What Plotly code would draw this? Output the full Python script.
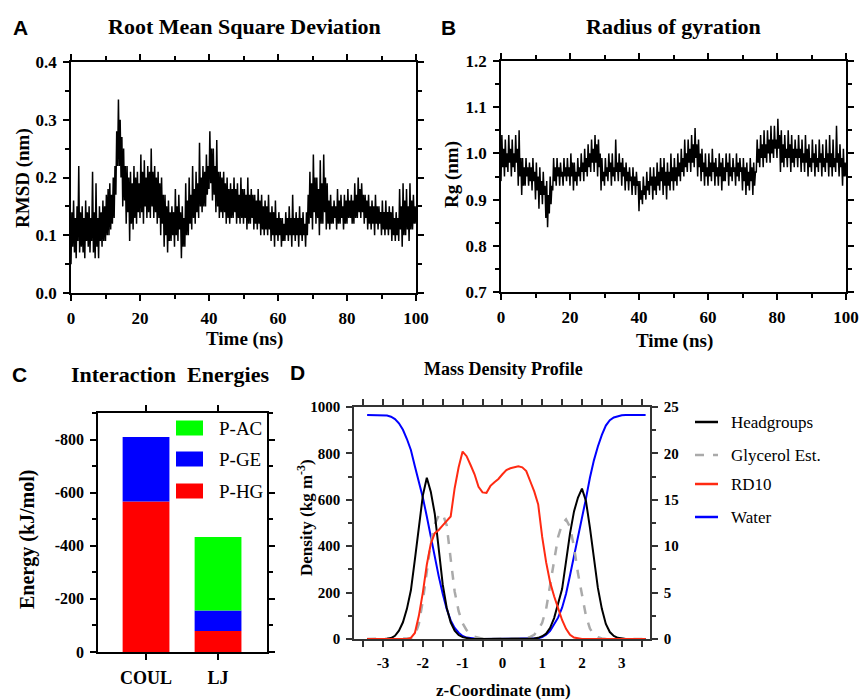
import plotly.graph_objects as go

# ---------------- DATA ----------------
rmsd_nm = [
    0.05, 0.14, 0.08, 0.16, 0.07, 0.13, 0.06, 0.15, 0.09, 0.22, 0.07, 0.14, 0.08, 0.15, 0.07, 0.13,
    0.06, 0.16, 0.09, 0.14, 0.08, 0.15, 0.07, 0.13, 0.09, 0.21, 0.07, 0.14, 0.06, 0.19, 0.08, 0.13,
    0.06, 0.15, 0.09, 0.14, 0.08, 0.16, 0.09, 0.15,
    0.09, 0.17, 0.10, 0.18, 0.10, 0.19, 0.11, 0.17, 0.12, 0.20, 0.13, 0.22, 0.17, 0.28, 0.22, 0.335,
    0.22, 0.30, 0.20, 0.27, 0.15, 0.25, 0.16, 0.22, 0.12, 0.22, 0.14, 0.20, 0.09, 0.21, 0.12, 0.19,
    0.11, 0.22, 0.13, 0.20, 0.12, 0.21, 0.14, 0.19,
    0.13, 0.24, 0.14, 0.21, 0.12, 0.23, 0.15, 0.20, 0.13, 0.22, 0.14, 0.21, 0.13, 0.25, 0.15, 0.21,
    0.13, 0.22, 0.14, 0.20, 0.12, 0.21, 0.13, 0.19, 0.10, 0.20, 0.12, 0.17, 0.08, 0.17, 0.10, 0.15,
    0.07, 0.16, 0.09, 0.14, 0.09, 0.15, 0.10, 0.14,
    0.08, 0.18, 0.10, 0.15, 0.09, 0.17, 0.11, 0.14, 0.06, 0.15, 0.08, 0.13, 0.08, 0.19, 0.10, 0.16,
    0.10, 0.20, 0.12, 0.17, 0.11, 0.22, 0.13, 0.18, 0.12, 0.21, 0.14, 0.19, 0.13, 0.26, 0.15, 0.20,
    0.14, 0.22, 0.15, 0.21, 0.15, 0.24, 0.17, 0.22,
    0.18, 0.28, 0.19, 0.25, 0.16, 0.25, 0.17, 0.22, 0.14, 0.265, 0.15, 0.21, 0.13, 0.21, 0.14, 0.20,
    0.13, 0.21, 0.14, 0.19, 0.12, 0.20, 0.13, 0.18, 0.12, 0.19, 0.13, 0.18, 0.13, 0.20, 0.14, 0.18,
    0.12, 0.19, 0.13, 0.17, 0.12, 0.20, 0.13, 0.18,
    0.12, 0.18, 0.13, 0.17, 0.11, 0.20, 0.12, 0.17, 0.12, 0.18, 0.13, 0.17, 0.11, 0.17, 0.12, 0.16,
    0.11, 0.18, 0.12, 0.16, 0.10, 0.17, 0.11, 0.15, 0.10, 0.16, 0.11, 0.15, 0.10, 0.17, 0.11, 0.14,
    0.09, 0.15, 0.10, 0.14, 0.08, 0.16, 0.10, 0.13,
    0.09, 0.14, 0.10, 0.13, 0.08, 0.13, 0.09, 0.12, 0.09, 0.14, 0.10, 0.13, 0.09, 0.15, 0.10, 0.13,
    0.08, 0.17, 0.10, 0.13, 0.09, 0.14, 0.10, 0.13, 0.08, 0.15, 0.10, 0.13, 0.09, 0.14, 0.10, 0.12,
    0.08, 0.14, 0.10, 0.17, 0.12, 0.21, 0.13, 0.19,
    0.11, 0.24, 0.14, 0.20, 0.12, 0.20, 0.13, 0.18, 0.10, 0.23, 0.12, 0.19, 0.12, 0.24, 0.14, 0.20,
    0.11, 0.19, 0.12, 0.16, 0.11, 0.17, 0.12, 0.15, 0.12, 0.16, 0.13, 0.15, 0.11, 0.18, 0.12, 0.16,
    0.12, 0.17, 0.13, 0.15, 0.11, 0.17, 0.12, 0.16,
    0.12, 0.18, 0.13, 0.16, 0.13, 0.17, 0.12, 0.16, 0.12, 0.19, 0.13, 0.17, 0.13, 0.20, 0.14, 0.18,
    0.13, 0.19, 0.14, 0.17, 0.12, 0.17, 0.13, 0.16, 0.11, 0.17, 0.12, 0.15, 0.11, 0.16, 0.12, 0.15,
    0.10, 0.17, 0.12, 0.15, 0.11, 0.15, 0.12, 0.14,
    0.10, 0.16, 0.11, 0.14, 0.10, 0.16, 0.11, 0.14, 0.10, 0.15, 0.11, 0.14, 0.09, 0.15, 0.10, 0.13,
    0.09, 0.14, 0.10, 0.13, 0.09, 0.18, 0.11, 0.15, 0.08, 0.19, 0.10, 0.16, 0.10, 0.18, 0.11, 0.15,
    0.09, 0.19, 0.11, 0.16, 0.11, 0.17, 0.12, 0.15,
    0.12,
]

# Panel B: radius of gyration (nm), every 0.25 ns
rg_nm = [
    0.94, 1.04, 0.97, 1.01, 0.95, 1.03, 0.97, 1.00, 0.96, 1.04, 0.98, 1.01, 0.95, 1.03, 0.97, 1.00,
    0.96, 1.04, 0.98, 1.01, 0.93, 1.05, 0.95, 0.99, 0.91, 0.99, 0.93, 0.97, 0.93, 0.99, 0.95, 0.97,
    0.93, 0.98, 0.94, 0.97, 0.92, 0.99, 0.94, 0.96,
    0.90, 0.98, 0.92, 0.95, 0.88, 0.97, 0.91, 0.94, 0.89, 0.96, 0.91, 0.93, 0.86, 0.94, 0.84, 0.91,
    0.87, 0.95, 0.89, 0.93, 0.92, 0.99, 0.94, 0.97, 0.93, 0.99, 0.95, 0.97, 0.93, 0.98, 0.95, 0.96,
    0.93, 0.99, 0.95, 0.97, 0.94, 0.99, 0.95, 0.97,
    0.93, 1.00, 0.95, 0.98, 0.92, 0.98, 0.94, 0.96, 0.93, 0.99, 0.95, 0.97, 0.94, 1.00, 0.96, 0.98,
    0.94, 1.01, 0.96, 0.99, 0.95, 1.02, 0.97, 1.00, 0.96, 1.03, 0.98, 1.01, 0.96, 1.04, 0.98, 1.02,
    0.95, 1.03, 0.97, 1.00, 0.92, 0.99, 0.94, 0.96,
    0.93, 0.99, 0.95, 0.97, 0.94, 1.00, 0.96, 0.98, 0.93, 1.00, 0.95, 0.97, 0.94, 1.03, 0.96, 0.98,
    0.94, 1.00, 0.96, 0.98, 0.93, 0.99, 0.95, 0.97, 0.92, 0.98, 0.94, 0.96, 0.92, 0.97, 0.94, 0.95,
    0.91, 0.97, 0.93, 0.95, 0.91, 0.96, 0.93, 0.94,
    0.875, 0.94, 0.90, 0.92, 0.89, 0.95, 0.91, 0.93, 0.90, 0.96, 0.92, 0.94, 0.91, 0.97, 0.93, 0.95,
    0.90, 0.97, 0.92, 0.95, 0.91, 0.98, 0.93, 0.96, 0.92, 0.99, 0.94, 0.97, 0.91, 0.99, 0.93, 0.96,
    0.90, 0.98, 0.93, 0.96, 0.92, 1.00, 0.94, 0.97,
    0.92, 0.99, 0.94, 0.97, 0.93, 1.00, 0.95, 0.98, 0.94, 1.01, 0.96, 0.99, 0.95, 1.03, 0.97, 1.00,
    0.96, 1.03, 0.98, 1.01, 0.96, 1.04, 0.98, 1.02, 0.97, 1.055, 0.99, 1.02, 0.95, 1.03, 0.97, 1.00,
    0.94, 1.01, 0.96, 0.98, 0.93, 1.00, 0.95, 0.97,
    0.93, 1.00, 0.95, 0.98, 0.94, 1.01, 0.96, 0.98, 0.93, 0.99, 0.95, 0.97, 0.93, 1.00, 0.95, 0.98,
    0.92, 0.99, 0.94, 0.97, 0.94, 1.00, 0.96, 0.98, 0.93, 1.00, 0.95, 0.97, 0.94, 0.99, 0.96, 0.97,
    0.93, 1.00, 0.95, 0.98, 0.94, 0.99, 0.96, 0.97,
    0.92, 0.99, 0.94, 0.97, 0.91, 0.98, 0.93, 0.96, 0.92, 0.99, 0.94, 0.97, 0.91, 0.98, 0.93, 0.96,
    0.96, 1.03, 0.98, 1.01, 0.97, 1.04, 0.99, 1.02, 0.97, 1.05, 0.99, 1.02, 0.98, 1.05, 1.00, 1.03,
    0.98, 1.06, 1.00, 1.03, 0.99, 1.06, 1.01, 1.03,
    0.99, 1.075, 1.01, 1.04, 0.96, 1.05, 0.98, 1.02, 0.97, 1.04, 0.99, 1.01, 0.97, 1.05, 0.99, 1.02,
    0.96, 1.04, 0.98, 1.01, 0.97, 1.03, 0.99, 1.01, 0.97, 1.04, 0.99, 1.01, 0.96, 1.03, 0.98, 1.00,
    0.96, 1.04, 0.98, 1.01, 0.95, 1.02, 0.97, 0.99,
    0.96, 1.03, 0.98, 1.00, 0.95, 1.02, 0.97, 0.99, 0.96, 1.03, 0.98, 1.00, 0.95, 1.02, 0.97, 0.99,
    0.96, 1.03, 0.98, 1.00, 0.95, 1.04, 0.97, 1.00, 0.95, 1.03, 0.97, 0.99, 0.96, 1.06, 0.98, 1.00,
    0.95, 1.02, 0.97, 0.99, 0.93, 1.01, 0.95, 0.98,
    0.95,
]
time_ns = [0.25 * i for i in range(len(rmsd_nm))]
time_rg_ns = [0.25 * i for i in range(len(rg_nm))]

# Panel C: interaction energies (kJ/mol)
energy_categories = ["COUL", "LJ"]
p_hg = [-567, -79]
p_ge = [-243, -77]
p_ac = [0, -277]
energy_ticks = [0, -200, -400, -600, -800]
energy_ticktext = ["0", "-200", "-400", "-600", "-800"]

# Panel D: mass density profile
z_nm = [-3.4, -3.3, -3.2, -3.1, -3.0,
        -2.9, -2.8, -2.7, -2.6, -2.5, -2.4, -2.3, -2.2, -2.1, -2.0,
        -1.9, -1.8, -1.7, -1.6, -1.5, -1.4, -1.3, -1.2, -1.1, -1.0,
        -0.9, -0.8, -0.7, -0.6, -0.5, -0.4, -0.3, -0.2, -0.1, 0.0,
        0.1, 0.2, 0.3, 0.4, 0.5, 0.6, 0.7, 0.8, 0.9, 1.0,
        1.1, 1.2, 1.3, 1.4, 1.5, 1.6, 1.7, 1.8, 1.9, 2.0,
        2.1, 2.2, 2.3, 2.4, 2.5, 2.6, 2.7, 2.8, 2.9, 3.0,
        3.1, 3.2, 3.3, 3.4, 3.5, 3.6]
headgroups = [0, 0, 0, 0, 0,
              1, 4, 14, 36, 72, 130, 210, 342, 485, 618,
              695, 635, 540, 385, 235, 135, 72, 36, 17, 8,
              3, 1, 0, 0, 0, 0, 0, 0, 0, 0,
              0, 0, 0, 0, 0, 0, 0, 2, 5, 12,
              23, 48, 90, 150, 215, 335, 455, 550, 610, 648,
              595, 480, 350, 220, 130, 65, 30, 13, 5, 1,
              0, 0, 0, 0, 0, 0]
glycerol = [0, 0, 0, 0, 0,
            0, 0, 0, 0, 0, 0, 3, 15, 65, 165,
            300, 415, 495, 533, 540, 490, 345, 205, 120, 68,
            38, 20, 10, 4, 1, 0, 0, 0, 0, 0,
            0, 0, 0, 0, 0, 2, 9, 18, 40, 70,
            130, 235, 345, 440, 495, 515, 483, 397, 283, 185,
            100, 45, 18, 8, 2, 0, 0, 0, 0, 0,
            0, 0, 0, 0, 0, 0]
water = [966, 966, 966, 966, 965,
         963, 958, 948, 930, 902, 862, 815, 745, 680, 610,
         528, 440, 350, 270, 195, 130, 80, 48, 27, 13,
         6, 3, 1, 0, 0, 0, 0, 0, 0, 0,
         0, 0, 0, 0, 0, 0, 0, 1, 3, 8,
         18, 35, 62, 92, 135, 195, 275, 355, 430, 525,
         605, 695, 770, 830, 880, 920, 943, 955, 961, 964,
         965, 965, 965, 965, 965, 965]
rd10 = [0, 0, 0, 0, 0,
        0, 0, 0, 0, 0, 0, 0.12, 0.65, 2.5, 5.0,
        8.0, 10.25, 11.4, 11.75, 12.25, 12.75, 13.2, 16.25, 18.5, 20.2,
        19.7, 18.75, 17.75, 16.4, 15.8, 15.75, 16.5, 16.9, 17.25, 17.75,
        18.2, 18.4, 18.5, 18.6, 18.5, 18.1, 17.0, 15.9, 14.5, 11.0,
        8.25, 6.1, 4.6, 3.25, 2.05, 1.1, 0.45, 0.15, 0.05, 0,
        0, 0, 0, 0, 0, 0, 0, 0, 0, 0,
        0, 0, 0, 0, 0, 0]
z_ticks = [-3, -2, -1, 0, 1, 2, 3]
z_ticktext = ["-3", "-2", "-1", "0", "1", "2", "3"]
density_legend = ["Headgroups", "Glycerol Est.", "RD10", "Water"]
energy_legend = ["P-AC", "P-GE", "P-HG"]

# ---------------- FIGURE ----------------
W, H = 866, 700
SERIF = "Liberation Serif, Times New Roman, DejaVu Serif, serif"
SANS = "Liberation Sans, Arial, sans-serif"


def fx(p):
    return p / W


def fy(p):
    return 1 - p / H


RED, BLUE, GREEN = "#ff0000", "#0000ff", "#00ff00"
RD_RED = "#ff2a12"
GRAY = "#aaaaaa"

fig = go.Figure()
fig.add_trace(go.Scatter(x=time_ns, y=rmsd_nm, mode="lines",
                         line=dict(color="black", width=1.5),
                         xaxis="x", yaxis="y", showlegend=False))
fig.add_trace(go.Scatter(x=time_rg_ns, y=rg_nm, mode="lines",
                         line=dict(color="black", width=1.5),
                         xaxis="x2", yaxis="y2", showlegend=False))
for name, vals, col in [("P-HG", p_hg, RED), ("P-GE", p_ge, BLUE), ("P-AC", p_ac, GREEN)]:
    fig.add_trace(go.Bar(x=energy_categories, y=vals, name=name, marker=dict(color=col, line=dict(width=0)),
                         width=0.65, xaxis="x3", yaxis="y3", showlegend=False))
fig.add_trace(go.Scatter(x=z_nm, y=water, mode="lines", line=dict(color=BLUE, width=2),
                         xaxis="x4", yaxis="y4", showlegend=False, name="Water"))
fig.add_trace(go.Scatter(x=z_nm, y=glycerol, mode="lines", line=dict(color=GRAY, width=2.5, dash="dash"),
                         xaxis="x4", yaxis="y4", showlegend=False, name="Glycerol Est."))
fig.add_trace(go.Scatter(x=z_nm, y=headgroups, mode="lines", line=dict(color="black", width=2),
                         xaxis="x4", yaxis="y4", showlegend=False, name="Headgroups"))
fig.add_trace(go.Scatter(x=z_nm, y=rd10, mode="lines", line=dict(color=RD_RED, width=2),
                         xaxis="x4", yaxis="y5", showlegend=False, name="RD10"))


def ax(size=17, color="black", lw=1.5, mirror="allticks", **kw):
    d = dict(showline=True, linecolor=color, linewidth=lw, ticks="outside", ticklen=6,
             tickwidth=1.5, tickcolor=color, mirror=mirror, showgrid=False, zeroline=False,
             ticklabelstandoff=3, automargin=False,
             tickfont=dict(family=SERIF, size=size, color="black", weight="bold"))
    d.update(kw)
    return d


def minor(color="black", **k):
    d = dict(ticks="outside", ticklen=4, tickwidth=1.5, tickcolor=color)
    d.update(k)
    return d


layout = dict(
    width=W, height=H, margin=dict(l=0, r=0, t=0, b=0, pad=0, autoexpand=False),
    paper_bgcolor="white", plot_bgcolor="white", barmode="relative", showlegend=False,
    xaxis=ax(domain=[fx(71), fx(416)], range=[0, 100], dtick=20, anchor="y", minor=minor(dtick=10)),
    yaxis=ax(domain=[fy(293), fy(62)], range=[0, 0.4], dtick=0.1, tickformat=".1f", anchor="x",
             minor=minor(dtick=0.05)),
    xaxis2=ax(domain=[fx(501), fx(846)], range=[0, 100], dtick=20, anchor="y2", minor=minor(dtick=10)),
    yaxis2=ax(domain=[fy(292), fy(61)], range=[0.7, 1.2], dtick=0.1, tickformat=".1f", anchor="x2",
              minor=minor(dtick=0.05)),
    xaxis3=ax(size=18, domain=[fx(98), fx(267)], type="category", range=[-0.667, 1.68], anchor="y3"),
    yaxis3=ax(size=16, domain=[fy(652), fy(413)], range=[0, -900], tickmode="array", tickvals=energy_ticks,
              ticktext=energy_ticktext, anchor="x3",
              minor=minor(tickmode="array", tickvals=[-100, -300, -500, -700, -900])),
    xaxis4=ax(size=15, color="#333333", domain=[fx(354), fx(650)], range=[-3.73, 3.71], tickmode="array",
              tickvals=z_ticks, ticktext=z_ticktext, anchor="y4",
              minor=minor(color="#333333", tickmode="array",
                          tickvals=[-3.5, -2.5, -1.5, -0.5, 0.5, 1.5, 2.5, 3.5])),
    yaxis4=ax(size=15, color="#333333", mirror=False, domain=[fy(639), fy(407)], range=[0, 1000], dtick=200,
              anchor="x4", minor=minor(color="#333333", dtick=100)),
    yaxis5=ax(size=15, color="#333333", mirror=False, overlaying="y4", side="right", range=[0, 25], dtick=5,
              anchor="x4", minor=minor(color="#333333", dtick=2.5)),
)

annotations = []


def ann(text, x, y, size, family=SERIF, bold=True, angle=0, xanchor="center"):
    annotations.append(dict(text=text, x=fx(x), y=fy(y), xref="paper", yref="paper", showarrow=False,
                            font=dict(family=family, size=size, color="black",
                                      weight="bold" if bold else "normal"),
                            textangle=angle, xanchor=xanchor, yanchor="middle"))


# panel letters and titles
ann("A", 20, 27, 21, family=SANS)
ann("B", 449, 27, 21, family=SANS)
ann("C", 19, 374, 21, family=SANS)
ann("D", 297, 372, 21, family=SANS)
ann("Root Mean Square Deviation", 244, 26, 22)
ann("Radius of gyration", 673, 26, 22)
ann("Interaction\u00a0 Energies", 170, 374, 22)
ann("Mass Density Profile", 503, 369, 18)
# axis titles
ann("RMSD (nm)", 23, 178, 19, angle=-90)
ann("Time (ns)", 244, 339, 19)
ann("Rg (nm)", 452, 175, 19, angle=-90)
ann("Time (ns)", 674, 341, 19)
ann("Energy (kJ/mol)", 27, 540, 20, angle=-90)
ann("Density (kg m<sup>-3</sup>)", 305, 518, 17, angle=-90)
ann("z-Coordinate (nm)", 503, 690, 17)

shapes = []
# legend C
for lab, col, yc in zip(energy_legend, [GREEN, BLUE, RED], [428, 459, 491]):
    shapes.append(dict(type="rect", xref="paper", yref="paper", x0=fx(176), x1=fx(203),
                       y0=fy(yc + 7.5), y1=fy(yc - 7.5), fillcolor=col, line=dict(width=0)))
    ann(lab, 217, yc, 19, bold=False, xanchor="left")
# legend D
for lab, col, dash, yc in zip(density_legend, ["black", GRAY, RD_RED, BLUE],
                              ["solid", "dash", "solid", "solid"], [422, 455, 484, 517]):
    shapes.append(dict(type="line", xref="paper", yref="paper", x0=fx(695), x1=fx(718),
                       y0=fy(yc), y1=fy(yc), line=dict(color=col, width=2.5, dash=dash)))
    ann(lab, 729, yc, 17, bold=False, xanchor="left")

layout["annotations"] = annotations
layout["shapes"] = shapes
fig.update_layout(**layout)
fig.write_html("out.html", config={"displayModeBar": False},
               post_script="document.body.style.margin='0';document.body.style.overflow='hidden';")
